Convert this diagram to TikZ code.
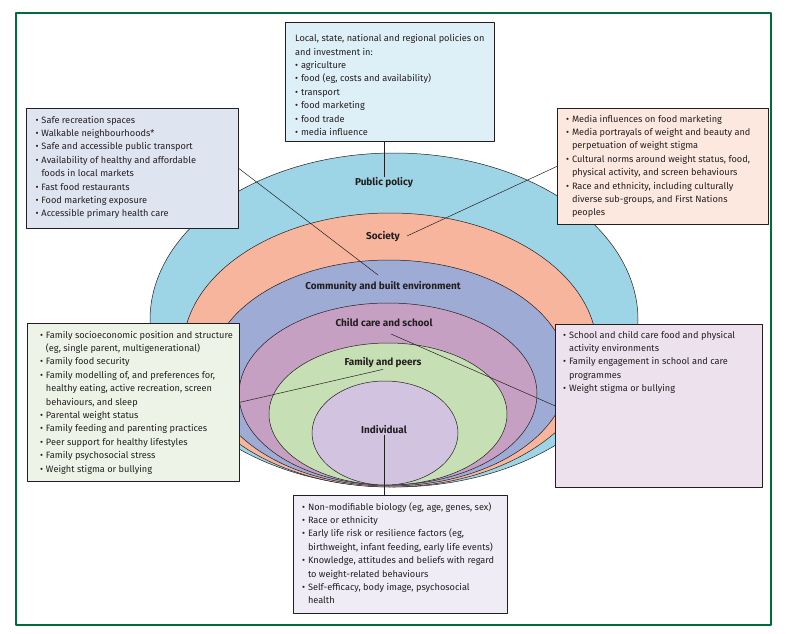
\documentclass[tikz,border=0pt]{standalone}
\usepackage{fontspec}
\setmainfont{Fira Sans}
\definecolor{polring}{RGB}{157,212,230}
\definecolor{socring}{RGB}{246,181,156}
\definecolor{commring}{RGB}{158,171,213}
\definecolor{childring}{RGB}{198,160,194}
\definecolor{famring}{RGB}{199,223,180}
\definecolor{indring}{RGB}{210,196,225}
\definecolor{polfill}{RGB}{222,240,247}
\definecolor{commfill}{RGB}{223,228,241}
\definecolor{socfill}{RGB}{253,232,223}
\definecolor{famfill}{RGB}{237,244,231}
\definecolor{childfill}{RGB}{236,225,236}
\definecolor{indfill}{RGB}{239,236,245}
\definecolor{framegreen}{RGB}{0,108,58}
\definecolor{ink}{RGB}{35,31,32}

\begin{document}
\begin{tikzpicture}[x=1pt, y=-1pt, line join=round, line cap=round, font=\fontsize{9.2}{13.4}\selectfont]
	\tikzset{
		ring/.style={draw=ink, line width=.5pt},
		panel/.style={draw=ink, line width=.7pt, anchor=north west, inner sep=0pt},
		txt/.style={anchor=north west, align=left, inner sep=0pt, text=ink},
		lab/.style={font=\fontsize{10}{12}\selectfont\bfseries, text=ink, inner sep=1pt},
		link/.style={draw=ink, line width=.5pt}
	}
	\def\bu{\makebox[5.8pt][l]{\textbullet}}
	\def\hg{\hspace*{5.8pt}}
	\useasboundingbox (0,0) rectangle (792,634);
	\draw[framegreen, line width=1.3pt] (16,13) rectangle (771,625);
	% nested rings, outer first
	\filldraw[ring, fill=polring] (394,320) ellipse [x radius=244, y radius=167];
	\filldraw[ring, fill=socring] (390,350) ellipse [x radius=207, y radius=137];
	\filldraw[ring, fill=commring] (389,373) ellipse [x radius=179, y radius=113];
	\filldraw[ring, fill=childring] (388,394) ellipse [x radius=149, y radius=91];
	\filldraw[ring, fill=famring] (388,414) ellipse [x radius=119, y radius=71];
	\filldraw[ring, fill=indring] (385,433) ellipse [x radius=73, y radius=52];
	\node[lab] (pollab) at (384,183) {Public policy};
	\node[lab] (soclab) at (383,237) {Society};
	\node[lab] (commlab) at (383,287) {Community and built environment};
	\node[lab] (childlab) at (384,323) {Child care and school};
	\node[lab] (famlab) at (383,363) {Family and peers};
	\node[lab] (indlab) at (384,430) {Individual};
	% panels
	\node[panel, fill=polfill, minimum width=209pt, minimum height=119pt] (polbox) at (285,22) {};
	\node[panel, fill=commfill, minimum width=212pt, minimum height=120pt] (commbox) at (26,108) {};
	\node[panel, fill=socfill, minimum width=211pt, minimum height=116pt] (socbox) at (557,108) {};
	\node[panel, fill=famfill, minimum width=212pt, minimum height=158pt] (fambox) at (27,323) {};
	\node[panel, fill=childfill, minimum width=207pt, minimum height=163pt] (childbox) at (555,324) {};
	\node[panel, fill=indfill, minimum width=214pt, minimum height=118pt] (indbox) at (293,495) {};
	\node[txt] (poltxt) at (295,32.1) {\strut Local, state, national and regional policies on\\
		and investment in:\\
		\bu agriculture\\
		\bu food (eg, costs and availability)\\
		\bu transport\\
		\bu food marketing\\
		\bu food trade\\
		\bu media influence};
	\node[txt] (commtxt) at (35.5,113.6) {\strut\bu Safe recreation spaces\\
		\bu Walkable neighbourhoods*\\
		\bu Safe and accessible public transport\\
		\bu Availability of healthy and affordable\\
		\hg foods in local markets\\
		\bu Fast food restaurants\\
		\bu Food marketing exposure\\
		\bu Accessible primary health care};
	\node[txt] (soctxt) at (566,112.6) {\strut\bu Media influences on food marketing\\
		\bu Media portrayals of weight and beauty and\\
		\hg perpetuation of weight stigma\\
		\bu Cultural norms around  weight status, food,\\
		\hg physical activity, and screen behaviours\\
		\bu Race and ethnicity, including culturally\\
		\hg diverse sub-groups, and First Nations\\
		\hg peoples};
	\node[txt] (famtxt) at (40,328.6) {\strut\bu Family socioeconomic position and structure\\
		\hg (eg, single parent, multigenerational)\\
		\bu Family food security\\
		\bu Family modelling of, and preferences for,\\
		\hg healthy eating, active recreation, screen\\
		\hg behaviours, and sleep\\
		\bu Parental weight status\\
		\bu Family feeding and parenting practices\\
		\bu Peer support for healthy lifestyles\\
		\bu Family psychosocial stress\\
		\bu Weight stigma or bullying};
	\node[txt] (childtxt) at (563,328.6) {\strut\bu School and child care food and physical\\
		\hg activity environments\\
		\bu Family engagement in school and care\\
		\hg programmes\\
		\bu Weight stigma or bullying};
	\node[txt] (indtxt) at (302,500.6) {\strut\bu Non-modifiable biology (eg, age, genes, sex)\\
		\bu Race or ethnicity\\
		\bu Early life risk or resilience factors (eg,\\
		\hg birthweight, infant feeding, early life events)\\
		\bu Knowledge, attitudes and beliefs with regard\\
		\hg to weight-related behaviours\\
		\bu Self-efficacy, body image, psychosocial\\
		\hg health};
	% connectors
	\coordinate (commend) at (378,275);
	\coordinate (socend) at (407,236);
	\coordinate (childend) at (391,334);
	\draw[link] (polbox.south -| pollab.north) -- (pollab.north);
	\draw[link] (commbox.east) -- (commend);
	\draw[link] (socbox.west) -- (socend);
	\draw[link] (fambox.east) -- (famlab.south);
	\draw[link] (childend) -- (childbox.west);
	\draw[link] (indlab.south) -- (indbox.north -| indlab.south);
\end{tikzpicture}
\end{document}
